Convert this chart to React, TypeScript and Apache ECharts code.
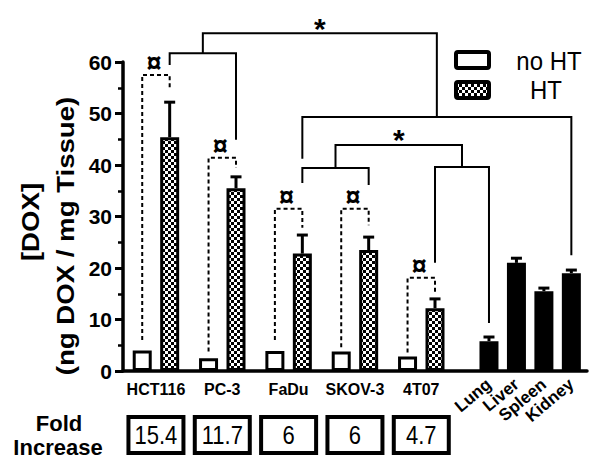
import React, { useEffect, useRef } from "react";
import * as echarts from "echarts";

// ---------------- data ----------------
const cellLines = ["HCT116", "PC-3", "FaDu", "SKOV-3", "4T07"];
const noHTValues = [4.0, 2.5, 3.9, 3.8, 2.8];
const htValues = [45.4, 35.5, 22.8, 23.5, 12.2];
const htErrors = [6.8, 2.2, 3.6, 2.5, 1.8];
const foldIncrease = ["15.4", "11.7", "6", "6", "4.7"];
const organs = ["Lung", "Liver", "Spleen", "Kidney"];
const organValues = [5.8, 21.0, 15.5, 19.0];
const organErrors = [0.8, 0.9, 0.6, 0.6];
const yTicks = [0, 10, 20, 30, 40, 50, 60];

// dashed "¤" pair brackets (levels in data units)
const pairTop = [57.5, 41.4, 31.5, 31.5, 18.1];
const pairLeftEnd = [6.0, 3.8, 6.0, 4.6, 3.6];
const pairRightEnd = [54.6, 39.4, 27.8, 28.3, 14.8];

// solid brackets levels (data units): [bar level, left drop end, right drop end]
const bracketHctPc3 = [61.7, 59.4, 44.9];
const bracketFaduSkov = [39.4, 36.5, 36.1];
const bracket4t07Lung = [39.6, 21.0, 9.3];
const bracketMid = [43.9];
const bracketTumorOrgan = [49.3, 41.2, 22.5];
const bracketTop = [65.6];

// ---------------- layout ----------------
const FONT = "'Liberation Sans', Arial, Helvetica, sans-serif";
const X_MAX = 16.9;
const GROUP_START = 0.7;
const GROUP_STEP = 2.416;
const PAIR_STEP = 1;
const ORGAN_START = 13.33;
const ORGAN_STEP = 1;

const noHTx = cellLines.map((_, g) => GROUP_START + g * GROUP_STEP);
const htX = noHTx.map((x) => x + PAIR_STEP);
const groupCenters = noHTx.map((x) => x + PAIR_STEP / 2);
const organX = organs.map((_, i) => ORGAN_START + i * ORGAN_STEP);

function makePattern() {
  const cv = document.createElement("canvas");
  cv.width = 6;
  cv.height = 6;
  const ctx = cv.getContext("2d")!;
  ctx.fillStyle = "#000";
  ctx.fillRect(0, 0, 6, 6);
  ctx.fillStyle = "#fff";
  ctx.fillRect(0, 0, 3, 3);
  ctx.fillRect(3, 3, 3, 3);
  return { image: cv, repeat: "repeat", imageWidth: 6, imageHeight: 6 } as any;
}

function nearestIndex(list: number[], v: number) {
  let best = 0;
  for (let i = 1; i < list.length; i++) {
    if (Math.abs(list[i] - v) < Math.abs(list[best] - v)) best = i;
  }
  return best;
}

export default function App() {
  const ref = useRef<HTMLDivElement>(null);

  useEffect(() => {
    if (!ref.current) return;
    const chart = echarts.init(ref.current, undefined, { renderer: "svg" });
    const pattern = makePattern();

    const solidStyle = { stroke: "#000", lineWidth: 2, fill: "none" };
    const dashStyle = { stroke: "#000", lineWidth: 2, lineDash: [4, 3], fill: "none" };

    // solid brackets definitions in data coordinates
    const b1 = { l: htX[0], r: htX[1], y: bracketHctPc3[0], ly: bracketHctPc3[1], ry: bracketHctPc3[2] };
    const b4 = { l: htX[2], r: htX[3], y: bracketFaduSkov[0], ly: bracketFaduSkov[1], ry: bracketFaduSkov[2] };
    const b6 = { l: htX[4], r: organX[0], y: bracket4t07Lung[0], ly: bracket4t07Lung[1], ry: bracket4t07Lung[2] };
    const b5 = { l: (b4.l + b4.r) / 2, r: (b6.l + b6.r) / 2, y: bracketMid[0], ly: b4.y, ry: b6.y, star: true };
    const b3 = { l: htX[2], r: organX[3], y: bracketTumorOrgan[0], ly: bracketTumorOrgan[1], ry: bracketTumorOrgan[2] };
    const b2 = { l: (b1.l + b1.r) / 2, r: (b3.l + b3.r) / 2, y: bracketTop[0], ly: b1.y, ry: b3.y, star: true };
    const brackets: any[] = [b1, b4, b6, b5, b3, b2];

    const errorData = [
      ...htX.map((x, i) => [x, htValues[i], htErrors[i]]),
      ...organX.map((x, i) => [x, organValues[i], organErrors[i]]),
    ];

    const option: any = {
      animation: false,
      textStyle: { fontFamily: FONT },
      grid: { left: 123, right: 13, top: 62, bottom: 100, containLabel: false },
      xAxis: [
        {
          type: "value",
          min: 0,
          max: X_MAX,
          axisLine: { show: true, onZero: false, lineStyle: { color: "#000", width: 3.5 } },
          axisTick: { show: false },
          splitLine: { show: false },
          axisLabel: {
            customValues: groupCenters,
            formatter: (v: number) => cellLines[nearestIndex(groupCenters, v)],
            color: "#000",
            fontSize: 16,
            fontWeight: "bold",
            fontFamily: FONT,
            margin: 10,
            hideOverlap: false,
          },
        },
        {
          type: "value",
          min: 0,
          max: X_MAX,
          position: "bottom",
          axisLine: { show: false },
          axisTick: { show: false },
          splitLine: { show: false },
          axisLabel: {
            customValues: organX,
            formatter: (v: number) => organs[nearestIndex(organX, v)],
            rotate: 40,
            color: "#000",
            fontSize: 17,
            fontWeight: "bold",
            fontFamily: FONT,
            margin: 11,
            hideOverlap: false,
          },
        },
      ],
      yAxis: {
        type: "value",
        min: yTicks[0],
        max: yTicks[yTicks.length - 1],
        interval: yTicks[1] - yTicks[0],
        axisLine: { show: true, lineStyle: { color: "#000", width: 3.5 } },
        axisTick: { show: true, length: 8, lineStyle: { color: "#000", width: 3 } },
        minorTick: { show: true, splitNumber: 2, length: 5, lineStyle: { color: "#000", width: 2.5 } },
        splitLine: { show: false },
        axisLabel: { color: "#000", fontSize: 21, fontWeight: "bold", fontFamily: FONT, margin: 11 },
      },
      series: [
        {
          name: "no HT",
          type: "bar",
          barWidth: 19,
          barGap: "-100%",
          data: noHTx.map((x, i) => [x, noHTValues[i]]),
          itemStyle: { color: "#fff", borderColor: "#000", borderWidth: 3 },
          z: 2,
        },
        {
          name: "HT",
          type: "bar",
          barWidth: 19,
          barGap: "-100%",
          data: htX.map((x, i) => [x, htValues[i]]),
          itemStyle: { color: pattern, borderColor: "#000", borderWidth: 3 },
          z: 2,
        },
        {
          name: "organs",
          type: "bar",
          barWidth: 19,
          barGap: "-100%",
          data: organX.map((x, i) => [x, organValues[i]]),
          itemStyle: { color: "#000", borderColor: "#000", borderWidth: 3 },
          z: 2,
        },
        {
          name: "error",
          type: "custom",
          z: 3,
          clip: false,
          data: errorData,
          encode: { x: 0, y: 1 },
          renderItem: (params: any, api: any) => {
            const x = api.value(0);
            const v = api.value(1);
            const e = api.value(2);
            const base = api.coord([x, v]);
            const top = api.coord([x, v + e]);
            const st = { stroke: "#000", lineWidth: 3, fill: "none" };
            return {
              type: "group",
              children: [
                { type: "line", shape: { x1: base[0], y1: base[1], x2: top[0], y2: top[1] }, style: st },
                { type: "line", shape: { x1: top[0] - 5.5, y1: top[1], x2: top[0] + 5.5, y2: top[1] }, style: st },
              ],
            };
          },
        },
        {
          name: "annotations",
          type: "custom",
          z: 4,
          clip: false,
          silent: true,
          data: [[0, 0]],
          encode: { x: 0, y: 1 },
          renderItem: (params: any, api: any) => {
            const c = (x: number, y: number) => api.coord([x, y]);
            const children: any[] = [];
            // dashed pair brackets with ¤
            cellLines.forEach((_, g) => {
              const pts = [
                c(noHTx[g], pairLeftEnd[g]),
                c(noHTx[g], pairTop[g]),
                c(htX[g], pairTop[g]),
                c(htX[g], pairRightEnd[g]),
              ];
              children.push({ type: "polyline", shape: { points: pts }, style: dashStyle });
              const p = c(groupCenters[g], pairTop[g]);
              children.push({
                type: "text",
                x: p[0] - 2,
                y: p[1] - 12,
                style: {
                  text: "¤",
                  fill: "#000",
                  fontSize: 27,
                  fontWeight: "bold",
                  fontFamily: FONT,
                  align: "center",
                  verticalAlign: "middle",
                },
              });
            });
            // solid brackets
            brackets.forEach((b) => {
              const pts = [c(b.l, b.ly), c(b.l, b.y), c(b.r, b.y), c(b.r, b.ry)];
              children.push({ type: "polyline", shape: { points: pts }, style: solidStyle });
              if (b.star) {
                const p = c((b.l + b.r) / 2, b.y);
                children.push({
                  type: "text",
                  x: p[0],
                  y: p[1] - 5,
                  style: {
                    text: "*",
                    fill: "#000",
                    fontSize: 30,
                    fontWeight: "bold",
                    fontFamily: FONT,
                    align: "center",
                    verticalAlign: "middle",
                  },
                });
              }
            });
            // fold increase boxes
            cellLines.forEach((_, g) => {
              const p = c(groupCenters[g], 0);
              children.push({
                type: "rect",
                shape: { x: p[0] - 27.5, y: p[1] + 46, width: 55, height: 36 },
                style: { fill: "#fff", stroke: "#000", lineWidth: 4 },
              });
              children.push({
                type: "text",
                x: p[0],
                y: p[1] + 64,
                scaleY: 1.15,
                style: {
                  text: foldIncrease[g],
                  fill: "#000",
                  fontSize: 22,
                  fontFamily: FONT,
                  align: "center",
                  verticalAlign: "middle",
                },
              });
            });
            return { type: "group", children };
          },
        },
      ],
      graphic: [
        {
          type: "text",
          x: 31,
          y: 222,
          rotation: Math.PI / 2,
          scaleX: 1.2,
          style: {
            text: "[DOX]",
            fill: "#000",
            fontSize: 23,
            fontWeight: "bold",
            fontFamily: FONT,
            align: "center",
            verticalAlign: "middle",
          },
        },
        {
          type: "text",
          x: 66,
          y: 236,
          rotation: Math.PI / 2,
          scaleX: 1.2,
          style: {
            text: "(ng DOX / mg Tissue)",
            fill: "#000",
            fontSize: 23,
            fontWeight: "bold",
            fontFamily: FONT,
            align: "center",
            verticalAlign: "middle",
          },
        },
        {
          type: "text",
          x: 59,
          y: 423,
          style: { text: "Fold", fill: "#000", fontSize: 22, fontWeight: "bold", fontFamily: FONT, align: "center", verticalAlign: "middle" },
        },
        {
          type: "text",
          x: 58,
          y: 447,
          style: { text: "Increase", fill: "#000", fontSize: 22, fontWeight: "bold", fontFamily: FONT, align: "center", verticalAlign: "middle" },
        },
        {
          type: "rect",
          shape: { x: 456, y: 52, width: 33, height: 16, r: 2 },
          style: { fill: "#fff", stroke: "#000", lineWidth: 4 },
        },
        {
          type: "rect",
          shape: { x: 456, y: 82, width: 33, height: 16, r: 2 },
          style: { fill: pattern, stroke: "#000", lineWidth: 4 },
        },
        {
          type: "text",
          x: 549,
          y: 61,
          scaleY: 1.1,
          style: { text: "no HT", fill: "#000", fontSize: 24, fontFamily: FONT, align: "center", verticalAlign: "middle" },
        },
        {
          type: "text",
          x: 546,
          y: 90,
          scaleY: 1.1,
          style: { text: "HT", fill: "#000", fontSize: 24, fontFamily: FONT, align: "center", verticalAlign: "middle" },
        },
      ],
    };

    chart.setOption(option);
    return () => chart.dispose();
  }, []);

  return <div ref={ref} style={{ width: 600, height: 471, margin: -8, background: "#fff" }} />;
}
